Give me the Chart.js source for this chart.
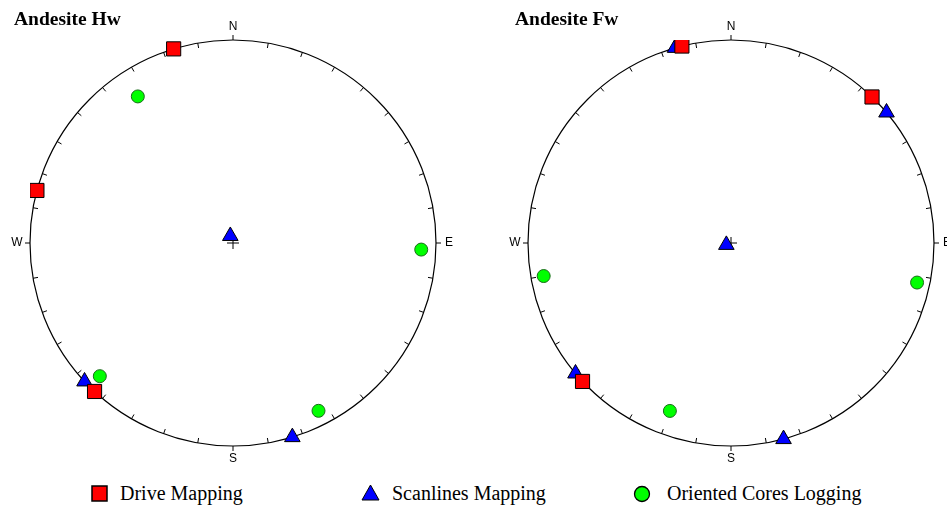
<!DOCTYPE html>
<html>
<head>
<meta charset="utf-8">
<script src="https://cdn.jsdelivr.net/npm/chart.js@4.4.1/dist/chart.umd.min.js"></script>
<style>
  html, body { margin: 0; padding: 0; background: #fff; }
  #page { position: relative; width: 947px; height: 505px; overflow: hidden; background: #fff; }
  canvas { position: absolute; top: 0; }
  #hw { left: 0; }
  #fw { left: 498px; }
  .leg { position: absolute; font-family: "Liberation Serif", "Times New Roman", serif; font-size: 20px; line-height: 20px; color: #000; white-space: nowrap; }
  .mk { position: absolute; }
</style>
</head>
<body>
<div id="page">
  <canvas id="hw" width="473" height="470"></canvas>
  <canvas id="fw" width="449" height="470"></canvas>

  <svg class="mk" style="left:91px;top:485px" width="17" height="17"><rect x="1" y="1" width="15" height="15" fill="#ff0000" stroke="#000" stroke-width="1.5"/></svg>
  <div class="leg" style="left:120px;top:483px">Drive Mapping</div>

  <svg class="mk" style="left:361px;top:484px" width="19" height="17"><polygon points="9.5,1 18,16 1,16" fill="#0000ff" stroke="#000" stroke-width="1"/></svg>
  <div class="leg" style="left:392px;top:483px">Scanlines Mapping</div>

  <svg class="mk" style="left:633px;top:485px" width="18" height="18"><circle cx="9" cy="9" r="7.5" fill="#00ff00" stroke="#000" stroke-width="1.3"/></svg>
  <div class="leg" style="left:667px;top:483px">Oriented Cores Logging</div>
</div>
<script>
// Pole orientations: trend (degrees from north, clockwise) and plunge (degrees)
const seriesNames = ['Drive Mapping', 'Scanlines Mapping', 'Oriented Cores Logging'];

// Andesite hanging wall
const hwDriveTrend  = [343, 285, 223];
const hwDrivePlunge = [0, 0, 0];
const hwScanTrend   = [339, 227, 163];
const hwScanPlunge  = [87, 0, 0];
const hwCoreTrend   = [327, 92, 225, 153];
const hwCorePlunge  = [15, 8, 8, 8];

// Andesite footwall
const fwDriveTrend  = [346, 44, 227];
const fwDrivePlunge = [0, 0, 0];
const fwScanTrend   = [344, 50, 248, 230, 165];
const fwScanPlunge  = [0, 0, 88, 0, 0];
const fwCoreTrend   = [260, 102, 200];
const fwCorePlunge  = [7, 7, 13];

const compassLabels = ['N', 'E', 'S', 'W'];

// Lambert equal-area (Schmidt) projection, lower hemisphere, unit primitive circle
function project(trends, plunges) {
  return trends.map((t, i) => {
    const r = Math.SQRT2 * Math.sin((90 - plunges[i]) / 2 * Math.PI / 180);
    const a = t * Math.PI / 180;
    return { x: r * Math.sin(a), y: r * Math.cos(a) };
  });
}

// Primitive circle, 10-degree ticks, compass letters, centre cross and panel title
const stereonetFrame = {
  id: 'stereonetFrame',
  beforeDatasetsDraw(chart, args, opts) {
    const ctx = chart.ctx;
    const xs = chart.scales.x, ys = chart.scales.y;
    const cx = xs.getPixelForValue(0), cy = ys.getPixelForValue(0);
    const R = xs.getPixelForValue(1) - cx;
    ctx.save();
    ctx.strokeStyle = '#000';
    ctx.lineWidth = 1.2;
    ctx.beginPath();
    ctx.arc(cx, cy, R, 0, Math.PI * 2);
    ctx.stroke();

    ctx.lineWidth = 1;
    ctx.beginPath();
    for (let d = 0; d < 360; d += 10) {
      const a = d * Math.PI / 180;
      const sx = Math.sin(a), sy = -Math.cos(a);
      const cardinal = d % 90 === 0;
      const r0 = R, r1 = cardinal ? R + 5 : R - 5;
      ctx.moveTo(cx + sx * r0, cy + sy * r0);
      ctx.lineTo(cx + sx * r1, cy + sy * r1);
    }
    // centre cross
    ctx.moveTo(cx - 6, cy); ctx.lineTo(cx + 6, cy);
    ctx.moveTo(cx, cy - 6); ctx.lineTo(cx, cy + 6);
    ctx.stroke();

    ctx.fillStyle = '#000';
    ctx.font = '12px "Liberation Sans", Arial, sans-serif';
    ctx.textAlign = 'center';
    ctx.textBaseline = 'middle';
    compassLabels.forEach((lab, i) => {
      const a = i * Math.PI / 2;
      const rr = R + 13;
      ctx.fillText(lab, cx + Math.sin(a) * rr, cy - Math.cos(a) * rr);
    });

    ctx.font = 'bold 19.5px "Liberation Serif", "Times New Roman", serif';
    ctx.textAlign = 'left';
    ctx.textBaseline = 'alphabetic';
    ctx.fillText(opts.title, opts.titleX, 25);
    ctx.restore();
  }
};

function makeNet(id, title, titleX, padRight, drive, scan, core) {
  return new Chart(document.getElementById(id), {
    type: 'scatter',
    data: {
      datasets: [
        { label: seriesNames[0], data: drive, pointStyle: 'rect', pointRadius: 10, pointHoverRadius: 10,
          backgroundColor: '#ff0000', borderColor: '#000', borderWidth: 1 },
        { label: seriesNames[1], data: scan, pointStyle: 'triangle', pointRadius: 9, pointHoverRadius: 9,
          backgroundColor: '#0000ff', borderColor: '#000', borderWidth: 1 },
        { label: seriesNames[2], data: core, pointStyle: 'circle', pointRadius: 6.5, pointHoverRadius: 6.5,
          backgroundColor: '#00ff00', borderColor: '#1a6b1a', borderWidth: 1 }
      ]
    },
    options: {
      responsive: false,
      animation: false,
      layout: { padding: { left: 30, top: 40, right: padRight, bottom: 24 } },
      scales: {
        x: { type: 'linear', min: -1, max: 1, display: false },
        y: { type: 'linear', min: -1, max: 1, display: false }
      },
      plugins: {
        legend: { display: false },
        tooltip: { enabled: false },
        stereonetFrame: { title: title, titleX: titleX }
      }
    },
    plugins: [stereonetFrame]
  });
}

makeNet('hw', 'Andesite Hw', 14, 37,
  project(hwDriveTrend, hwDrivePlunge),
  project(hwScanTrend, hwScanPlunge),
  project(hwCoreTrend, hwCorePlunge));

makeNet('fw', 'Andesite Fw', 17, 13,
  project(fwDriveTrend, fwDrivePlunge),
  project(fwScanTrend, fwScanPlunge),
  project(fwCoreTrend, fwCorePlunge));
</script>
</body>
</html>
